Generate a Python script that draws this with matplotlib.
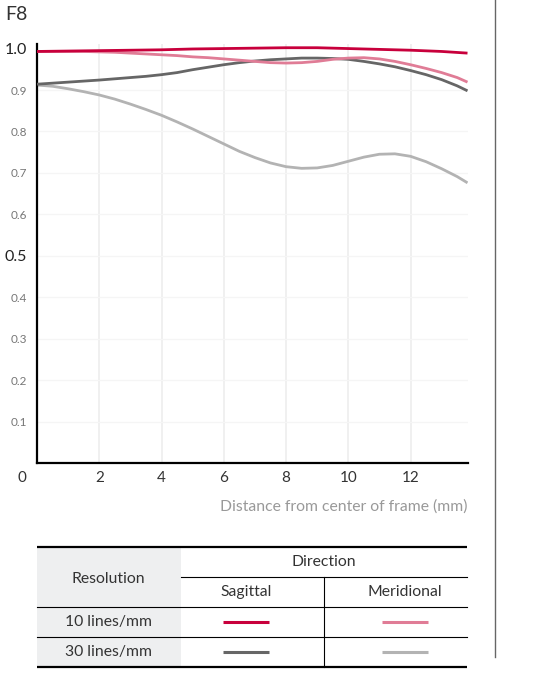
#
# MTF chart, F8
#
import numpy as np
import matplotlib
matplotlib.use('agg')
import matplotlib.pyplot as plt
from matplotlib.patches import Rectangle

plt.rcParams['font.family'] = ['Lato', 'DejaVu Sans']

# distance from center of frame (mm)
dist = [0, 1, 2, 3, 4, 5, 6, 7, 8, 9, 10, 11, 12, 13, 13.83]
dist_fine = [0, 0.5, 1, 1.5, 2, 2.5, 3, 3.5, 4, 4.5, 5, 5.5, 6, 6.5, 7, 7.5,
             8, 8.5, 9, 9.5, 10, 10.5, 11, 11.5, 12, 12.5, 13, 13.5, 13.83]
sag10 = [0.993, 0.994, 0.995, 0.996, 0.997, 0.999, 1.000, 1.001, 1.002, 1.002, 1.000, 0.998, 0.996, 0.993, 0.989]
mer10 = [0.993, 0.993, 0.993, 0.993, 0.992, 0.991, 0.989, 0.987, 0.985, 0.983,
         0.980, 0.978, 0.975, 0.972, 0.969, 0.966, 0.965, 0.966, 0.969, 0.974,
         0.977, 0.978, 0.975, 0.969, 0.961, 0.952, 0.942, 0.930, 0.919]
sag30 = [0.914, 0.9165, 0.919, 0.9215, 0.924, 0.927, 0.930, 0.933, 0.937, 0.942,
         0.949, 0.955, 0.961, 0.966, 0.970, 0.973, 0.975, 0.977, 0.977, 0.976,
         0.974, 0.969, 0.963, 0.956, 0.947, 0.937, 0.925, 0.910, 0.898]
mer30 = [0.912, 0.909, 0.903, 0.896, 0.888, 0.878, 0.866, 0.853, 0.839, 0.823,
         0.806, 0.788, 0.770, 0.752, 0.737, 0.724, 0.715, 0.711, 0.712, 0.718,
         0.728, 0.738, 0.745, 0.746, 0.740, 0.727, 0.710, 0.691, 0.676]

xticks = [2, 4, 6, 8, 10, 12]
yticks = [0.1, 0.2, 0.3, 0.4, 0.5, 0.6, 0.7, 0.8, 0.9, 1.0]
big_yticks = [0.5, 1.0]

aperture = "F8"
xlabel = "Distance from center of frame (mm)"
row_labels = ["10 lines/mm", "30 lines/mm"]
col_labels = ["Sagittal", "Meridional"]

c_sag10 = "#c8003c"
c_mer10 = "#e07c96"
c_sag30 = "#666666"
c_mer30 = "#b3b3b3"

W, H = 547, 678
fig = plt.figure(figsize=(W / 100, H / 100), dpi=100)

# chart axes (pixel box: x 37..467.5, y 44..463)
ax = fig.add_axes([37 / W, (H - 463) / H, (467.5 - 37) / W, (463 - 44) / H])
ax.set_xlim(0, 13.83)
ax.set_ylim(0, 1.011)

for xv in xticks:
    ax.axvline(xv, color="#ededed", lw=1.2, zorder=0)
for yv in yticks[:-1]:
    ax.axhline(yv, color="#f5f5f5", lw=1.0, zorder=0)

ax.plot(dist_fine, mer30, color=c_mer30, lw=2.0, solid_capstyle="butt", zorder=2)
ax.plot(dist_fine, sag30, color=c_sag30, lw=2.0, solid_capstyle="butt", zorder=3)
ax.plot(dist_fine, mer10, color=c_mer10, lw=2.0, solid_capstyle="butt", zorder=4)
ax.plot(dist, sag10, color=c_sag10, lw=2.0, solid_capstyle="butt", zorder=5)

for s in ["top", "right"]:
    ax.spines[s].set_visible(False)
for s in ["left", "bottom"]:
    ax.spines[s].set_linewidth(1.6)
    ax.spines[s].set_color("black")

ax.set_xticks(xticks)
ax.set_xticklabels([str(v) for v in xticks], fontsize=11, color="#333333")
ax.tick_params(axis="x", length=0, pad=6)

ax.set_yticks(yticks)
ax.set_yticklabels(["%.1f" % v for v in yticks])
for lab, v in zip(ax.get_yticklabels(), yticks):
    if v in big_yticks:
        lab.set_fontsize(11.5)
        lab.set_color("#222222")
    else:
        lab.set_fontsize(8.5)
        lab.set_color("#777777")
ax.tick_params(axis="y", length=0, pad=7)

ax.set_xlabel(xlabel, fontsize=11.3, color="#999999", loc="right", labelpad=10)

# overlay in pixel coordinates for the title, corner label and table
ov = fig.add_axes([0, 0, 1, 1])
ov.set_xlim(0, W)
ov.set_ylim(H, 0)
ov.axis("off")
ov.patch.set_alpha(0)

ov.text(5, 15, aperture, fontsize=14, color="#333333", va="center", ha="left")
ov.text(22, 478, "0", fontsize=11, color="#333333", va="center", ha="center")

# divider on the right
ov.plot([495, 495], [0, 657], color="#666666", lw=1.0)

# table
tx0, tx1, tcol, tdiv = 36.5, 467, 180.7, 324.4
ty = [546.7, 577.3, 607.3, 637.3, 667.3]
ov.add_patch(Rectangle((tx0, ty[0]), tcol - tx0, ty[4] - ty[0], color="#eeeff0", lw=0, zorder=0))
ov.plot([tx0, tx1], [ty[0], ty[0]], color="black", lw=1.6, solid_capstyle="butt")
ov.plot([tx0, tx1], [ty[4], ty[4]], color="black", lw=1.6, solid_capstyle="butt")
ov.plot([tcol, tx1], [ty[1], ty[1]], color="black", lw=0.8)
ov.plot([tx0, tx1], [ty[2], ty[2]], color="black", lw=0.8)
ov.plot([tx0, tx1], [ty[3], ty[3]], color="black", lw=0.8)
ov.plot([tdiv, tdiv], [ty[1], ty[4]], color="black", lw=0.8)

col_centers = [246, 405]
tkw = dict(fontsize=11.3, color="#333333", ha="center", va="center")
ov.text((tcol + tx1) / 2, 562, "Direction", **tkw)
ov.text((tx0 + tcol) / 2, 579, "Resolution", **tkw)
ov.text(col_centers[0], 592, col_labels[0], **tkw)
ov.text(col_centers[1], 592, col_labels[1], **tkw)
ov.text((tx0 + tcol) / 2, 622, row_labels[0], **tkw)
ov.text((tx0 + tcol) / 2, 652, row_labels[1], **tkw)

sample_colors = [[c_sag10, c_mer10], [c_sag30, c_mer30]]
row_centers = [622, 652]
for r in range(2):
    for c in range(2):
        cx = col_centers[c]
        ov.plot([cx - 23, cx + 23], [row_centers[r], row_centers[r]],
                color=sample_colors[r][c], lw=2.2, solid_capstyle="butt")

fig.savefig("out.png", dpi=100)
